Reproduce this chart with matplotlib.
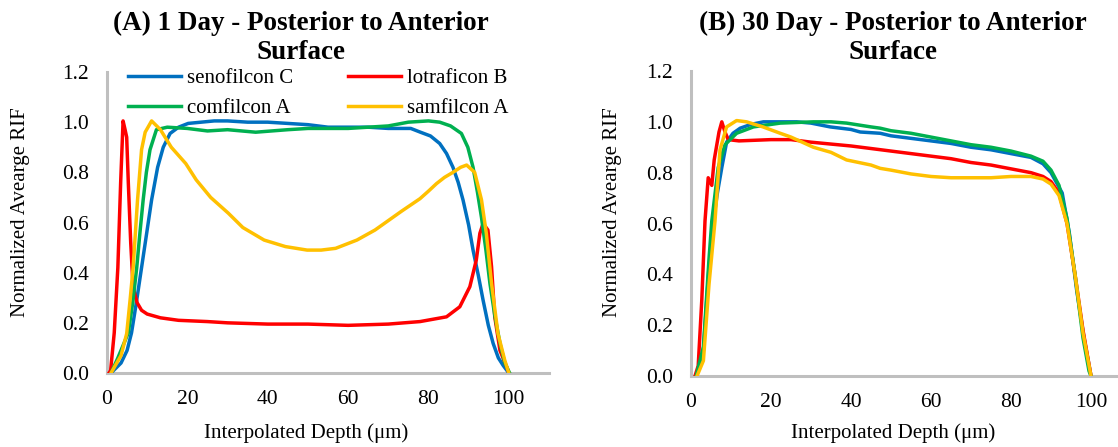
import matplotlib
matplotlib.use("Agg")
import matplotlib.pyplot as plt

plt.rcParams['font.family'] = ['Liberation Serif', 'DejaVu Serif']

labels = ["senofilcon C", "lotraficon B", "comfilcon A", "samfilcon A"]
colors = ["#0070C0", "#FF0000", "#00B050", "#FFC000"]

# ---- (A) 1 Day ----
seno_1d_x = [1, 3.5, 5, 6.1, 7.3, 8.6, 9.9, 11.1, 12.6, 14, 15.7, 17.8, 20.2, 26.7, 30, 35, 40, 45, 50, 55, 60, 65,
             70, 75.6, 78, 80.5, 82.8, 84.5, 86.1, 87.4, 88.6, 90, 91.1, 92.4, 93.6, 94.9, 96.1, 97.4, 98.6, 100]
seno_1d_y = [0, 0.04, 0.09, 0.16, 0.28, 0.42, 0.56, 0.69, 0.82, 0.9, 0.955, 0.98, 0.995, 1.005, 1.005, 1.0, 1.0,
             0.995, 0.99, 0.98, 0.98, 0.98, 0.975, 0.975, 0.96, 0.945, 0.915, 0.875, 0.82, 0.76, 0.69, 0.59, 0.49,
             0.39, 0.29, 0.19, 0.118, 0.06, 0.03, 0]

lotra_1d_x = [0.5, 0.9, 1.8, 2.7, 3.4, 4.0, 4.5, 4.9, 5.3, 5.9, 6.5, 7.5, 8.6, 10, 13.3, 17.8, 25, 30, 40, 50, 60,
              70, 77.9, 84.5, 87.8, 90.3, 91.9, 92.8, 93.6, 94.8, 95.7, 96.5, 97.8, 99.8]
lotra_1d_y = [0, 0.01, 0.16, 0.42, 0.76, 1.005, 0.97, 0.94, 0.76, 0.52, 0.34, 0.28, 0.25, 0.235, 0.22, 0.21, 0.205,
              0.2, 0.195, 0.195, 0.19, 0.195, 0.205, 0.224, 0.264, 0.344, 0.45, 0.557, 0.596, 0.57, 0.424, 0.224,
              0.09, 0.01]

comf_1d_x = [1, 2.7, 4, 5.3, 6.4, 7.4, 8.2, 9, 9.8, 10.7, 12.3, 15, 20, 25, 30, 37, 45, 50, 60, 65, 70, 75, 80, 82.8,
             85.5, 88.2, 89.8, 91.1, 92.2, 93.2, 94.3, 95.3, 96.5, 97.8, 99, 100.2]
comf_1d_y = [0, 0.06, 0.11, 0.16, 0.28, 0.42, 0.56, 0.69, 0.8, 0.89, 0.97, 0.98, 0.975, 0.965, 0.97, 0.96, 0.97,
             0.975, 0.975, 0.98, 0.985, 1.0, 1.005, 1.0, 0.985, 0.955, 0.9, 0.82, 0.72, 0.62, 0.49, 0.357, 0.23,
             0.118, 0.04, 0.0]

samf_1d_x = [1, 3.5, 4.9, 5.8, 6.5, 7.6, 8.6, 9.5, 11.1, 13.3, 16, 19.6, 22.2, 25.8, 30.2, 33.8, 39.1, 44.4, 49.8,
             53.3, 56.9, 62.2, 66.7, 71.1, 73.3, 75.6, 77.9, 80, 82, 84, 86.1, 88, 89.5, 91.5, 93.2, 94.4, 95.7, 97.3,
             99, 100]
samf_1d_y = [0, 0.07, 0.157, 0.3, 0.42, 0.69, 0.89, 0.96, 1.005, 0.97, 0.9, 0.835, 0.77, 0.70, 0.637, 0.58, 0.53,
             0.504, 0.49, 0.49, 0.497, 0.53, 0.57, 0.62, 0.645, 0.67, 0.695, 0.725, 0.755, 0.78, 0.80, 0.82, 0.829,
             0.80, 0.69, 0.557, 0.357, 0.157, 0.05, 0]

# ---- (B) 30 Day ----
seno_30d_x = [1.3, 3.1, 4.5, 5.6, 6.6, 7.7, 8.9, 10.5, 12.3, 15, 18.1, 22, 26.4, 30, 34.8, 40, 42.3, 47.3, 50, 55,
              60, 65, 70, 75, 80, 85, 88, 90, 92.8, 94.6, 96.4, 98.2, 100]
seno_30d_y = [0, 0.1, 0.43, 0.61, 0.72, 0.82, 0.92, 0.955, 0.975, 0.99, 1.0, 1.0, 1.0, 0.995, 0.98, 0.97, 0.96,
              0.955, 0.945, 0.935, 0.925, 0.915, 0.9, 0.89, 0.875, 0.86, 0.835, 0.8, 0.72, 0.56, 0.34, 0.155, 0]

lotra_30d_x = [1, 1.8, 2.7, 3.5, 4.3, 5.2, 5.8, 7.0, 7.7, 8.5, 9.3, 12, 20, 25, 30, 40, 45, 50, 60, 65, 70, 75, 80,
               85, 88, 90, 92, 94, 96, 98, 100]
lotra_30d_y = [0, 0.04, 0.3, 0.61, 0.78, 0.75, 0.85, 0.96, 1.0, 0.96, 0.93, 0.925, 0.93, 0.93, 0.92, 0.905, 0.895,
               0.885, 0.865, 0.855, 0.84, 0.83, 0.815, 0.8, 0.785, 0.765, 0.72, 0.6, 0.4, 0.18, 0]

comf_30d_x = [1.3, 3.1, 4.5, 5.2, 6.8, 8.5, 11.4, 15.6, 22.3, 30.6, 35, 38.9, 45, 47.3, 50, 55, 60, 65, 70, 75, 80,
              85, 88, 90, 92, 94, 96, 98, 99.5, 100]
comf_30d_y = [0, 0.115, 0.46, 0.61, 0.82, 0.91, 0.955, 0.98, 0.995, 1.0, 1.0, 0.995, 0.98, 0.975, 0.965, 0.955,
              0.94, 0.925, 0.91, 0.9, 0.885, 0.865, 0.845, 0.81, 0.75, 0.62, 0.40, 0.15, 0.02, 0]

samf_30d_x = [1.5, 3.1, 4.5, 6.0, 7.25, 8.9, 11.4, 13.9, 18, 22.3, 25, 30.6, 35, 38.9, 45, 47.3, 50, 55, 60, 65, 70,
              75, 80, 85, 88, 90, 92, 94, 96, 98, 100]
samf_30d_y = [0, 0.06, 0.36, 0.61, 0.89, 0.98, 1.005, 1.0, 0.98, 0.955, 0.94, 0.9, 0.88, 0.85, 0.83, 0.817, 0.81,
              0.795, 0.785, 0.78, 0.78, 0.78, 0.785, 0.785, 0.775, 0.755, 0.71, 0.6, 0.4, 0.17, 0]

panels = [
    {"title": "(A) 1 Day - Posterior to Anterior\nSurface",
     "series": [(seno_1d_x, seno_1d_y), (lotra_1d_x, lotra_1d_y), (comf_1d_x, comf_1d_y), (samf_1d_x, samf_1d_y)]},
    {"title": "(B) 30 Day - Posterior to Anterior\nSurface",
     "series": [(seno_30d_x, seno_30d_y), (lotra_30d_x, lotra_30d_y), (comf_30d_x, comf_30d_y),
                (samf_30d_x, samf_30d_y)]},
]

x_ticks = [0, 20, 40, 60, 80, 100]
y_ticks = [0.0, 0.2, 0.4, 0.6, 0.8, 1.0, 1.2]

W, H = 1118, 447
fig = plt.figure(figsize=(W / 100, H / 100), dpi=100)

# axes boxes in pixels: (left, top, right, bottom)
boxes = [(107, 72, 549, 373), (691, 71, 1131, 376)]
title_x = [301, 893]
ylabel_x = [21, 612]
xlabel_x = [306, 893]

for i, (panel, box) in enumerate(zip(panels, boxes)):
    l, t, r, b = box
    ax = fig.add_axes([l / W, 1 - b / H, (r - l) / W, (b - t) / H])
    lines = []
    for (xs, ys), c, lab in zip(panel["series"], colors, labels):
        ln, = ax.plot(xs, ys, color=c, lw=2.5, label=lab, solid_joinstyle='round', zorder=3)
        lines.append(ln)
    ax.set_xlim(0, 110)
    ax.set_ylim(0, 1.2)
    ax.set_xticks(x_ticks)
    ax.set_xticklabels([str(v) for v in x_ticks])
    ax.set_yticks(y_ticks)
    ax.set_yticklabels([f"{v:.1f}" for v in y_ticks])
    ax.tick_params(length=0, labelsize=15.5, colors='#000000')
    ax.tick_params(axis='y', pad=13)
    ax.tick_params(axis='x', pad=12)
    for s in ['top', 'right']:
        ax.spines[s].set_visible(False)
    for s in ['left', 'bottom']:
        ax.spines[s].set_color('#BFBFBF')
        ax.spines[s].set_linewidth(2.2)
        ax.spines[s].set_zorder(1)
    ax.patch.set_alpha(0)

    fig.text(title_x[i] / W, 1 - 38 / H, panel["title"], ha='center', va='center',
             fontsize=19.5, fontweight='bold', linespacing=1.17)
    fig.text(ylabel_x[i] / W, 1 - 212 / H, "Normalized Avearge RIF", rotation=90,
             ha='center', va='center', fontsize=15)
    fig.text(xlabel_x[i] / W, 1 - 433 / H, "Interpolated Depth (\u03bcm)", ha='center', va='center', fontsize=15)

    if i == 0:
        order = [0, 2, 1, 3]
        ax.legend([lines[k] for k in order], [labels[k] for k in order], ncol=2, frameon=False,
                  loc='upper left', bbox_to_anchor=((128 - l) / (r - l), 1.012),
                  borderaxespad=0, borderpad=0, fontsize=15, handlelength=2.55, handletextpad=0.3,
                  columnspacing=2.6, labelspacing=0.5)

fig.savefig("out.png", dpi=100)
